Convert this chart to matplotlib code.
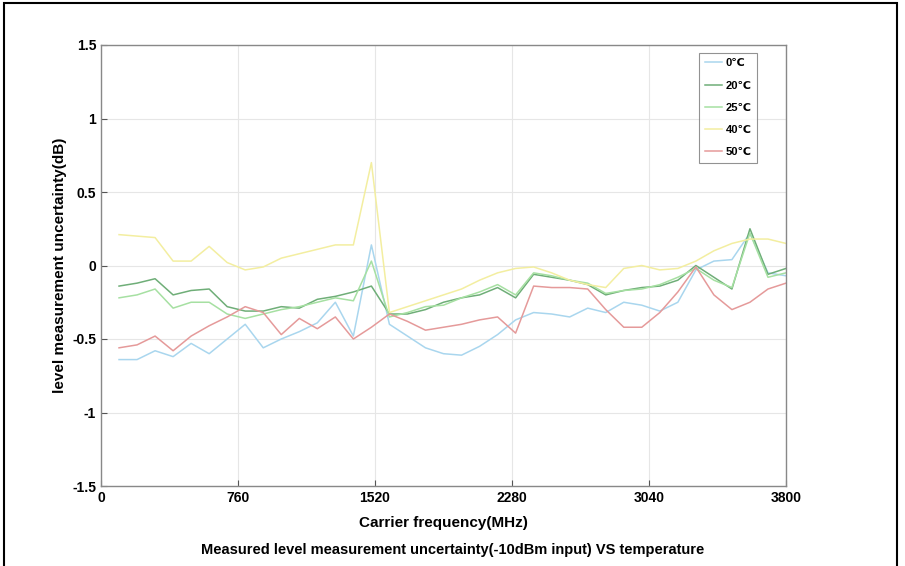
import numpy as np
import matplotlib
matplotlib.use("Agg")
import matplotlib.pyplot as plt
from matplotlib.patches import Rectangle

plt.rcParams['font.family'] = ['Liberation Sans', 'DejaVu Sans']
plt.rcParams['font.weight'] = 'bold'

# carrier frequency points (MHz)
freq = list(range(100, 3900, 100))

t0 = [-0.64, -0.64, -0.58, -0.62, -0.53, -0.60, -0.50, -0.40, -0.56, -0.50,
      -0.45, -0.39, -0.25, -0.48, 0.14, -0.40, -0.48, -0.56, -0.60, -0.61,
      -0.55, -0.47, -0.37, -0.32, -0.33, -0.35, -0.29, -0.32, -0.25, -0.27,
      -0.31, -0.25, -0.03, 0.03, 0.04, 0.22, -0.05, -0.07]
t20 = [-0.14, -0.12, -0.09, -0.20, -0.17, -0.16, -0.28, -0.31, -0.31, -0.28,
       -0.29, -0.23, -0.21, -0.18, -0.14, -0.33, -0.33, -0.30, -0.25, -0.22,
       -0.20, -0.15, -0.22, -0.06, -0.08, -0.10, -0.13, -0.20, -0.17, -0.15,
       -0.14, -0.10, 0.00, -0.08, -0.16, 0.25, -0.06, -0.02]
t25 = [-0.22, -0.20, -0.16, -0.29, -0.25, -0.25, -0.33, -0.36, -0.33, -0.30,
       -0.28, -0.25, -0.22, -0.24, 0.03, -0.35, -0.32, -0.28, -0.27, -0.22,
       -0.18, -0.13, -0.20, -0.05, -0.07, -0.10, -0.12, -0.19, -0.17, -0.16,
       -0.13, -0.08, -0.02, -0.10, -0.15, 0.22, -0.08, -0.05]
t40 = [0.21, 0.20, 0.19, 0.03, 0.03, 0.13, 0.02, -0.03, -0.01, 0.05,
       0.08, 0.11, 0.14, 0.14, 0.70, -0.32, -0.28, -0.24, -0.20, -0.16,
       -0.10, -0.05, -0.02, -0.01, -0.05, -0.10, -0.13, -0.15, -0.02, 0.00,
       -0.03, -0.02, 0.03, 0.10, 0.15, 0.18, 0.18, 0.15]
t50 = [-0.56, -0.54, -0.48, -0.58, -0.48, -0.41, -0.35, -0.28, -0.32, -0.47,
       -0.36, -0.43, -0.35, -0.50, -0.42, -0.33, -0.38, -0.44, -0.42, -0.40,
       -0.37, -0.35, -0.46, -0.14, -0.15, -0.15, -0.16, -0.30, -0.42, -0.42,
       -0.32, -0.18, -0.01, -0.20, -0.30, -0.25, -0.16, -0.12]

labels = ['0\u2103', '20\u2103', '25\u2103', '40\u2103', '50\u2103']
colors = ['#a9d6ee', '#6fae78', '#a6e0a2', '#f3eea0', '#e59a9a']

fig = plt.figure(figsize=(9.05, 5.66), dpi=100)
ax = fig.add_axes([101/905, 1-486/566, 685/905, 441/566])

for y, lab, c in zip([t0, t20, t25, t40, t50], labels, colors):
	ax.plot(freq, y, color=c, lw=1.1, label=lab)

ax.set_xlim(0, 3800)
ax.set_ylim(-1.5, 1.5)
ax.set_xticks([0, 760, 1520, 2280, 3040, 3800])
ax.set_yticks([-1.5, -1, -0.5, 0, 0.5, 1, 1.5])
ax.set_yticklabels(['-1.5', '-1', '-0.5', '0', '0.5', '1', '1.5'])
ax.grid(True, color='#e6e6e6', lw=0.8)
ax.tick_params(direction='in', length=4, labelsize=10, color='#555555')
for s in ax.spines.values():
	s.set_color('#888888')
	s.set_linewidth(1.0)

ax.set_xlabel('Carrier frequency(MHz)', fontsize=11, fontweight='bold', labelpad=8)
ax.set_ylabel('level measurement uncertainty(dB)', fontsize=11, fontweight='bold', labelpad=4)

leg = ax.legend(loc='upper left', bbox_to_anchor=(0.865, 0.995), fontsize=8,
	handlelength=1.6, handletextpad=0.3, borderpad=0.5, labelspacing=1.1,
	frameon=True, fancybox=False, edgecolor='#777777')
leg.get_frame().set_linewidth(0.8)

fig.text(0.5, 1 - 550/566, 'Measured level measurement uncertainty(-10dBm input) VS temperature',
	ha='center', va='center', fontsize=10.5, fontweight='bold')

# outer frame round the picture
fig.patches.append(Rectangle((4/905, -0.05), 893/905, 1.05 - 3/566, transform=fig.transFigure,
	fill=False, edgecolor='black', lw=1.5))

fig.savefig('out.png', dpi=100)
